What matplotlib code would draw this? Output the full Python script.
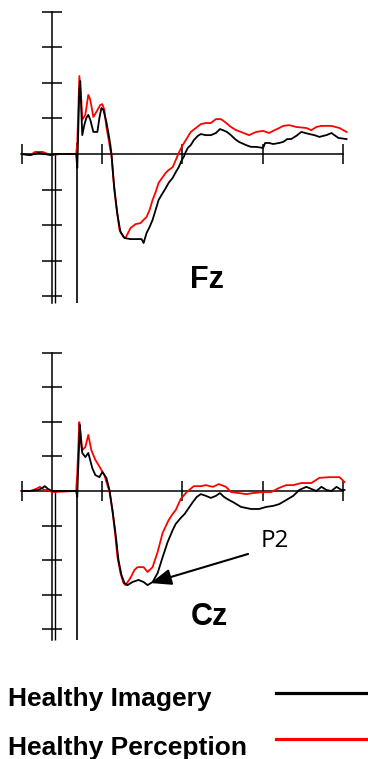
import matplotlib
matplotlib.use("Agg")
import matplotlib.pyplot as plt
from matplotlib.lines import Line2D

# ---------------- data (time in ms, amplitude in µV) ----------------
fz_perc_t = [-100, -89, -83, -74, -67, -62, -52, -32, -30.6, -28, -25.6, -24.4, -20.6, -16.9, -14.4,
             -10.6, -6.9, -1.9, 0.6, 3.1, 5.6, 8.1, 10.6, 11.9, 14.4, 18.1, 21.9, 26.9, 29.4, 35.6,
             41.9, 48.1, 51.9, 55.6, 59.4, 63.1, 66.9, 70.6, 75.6, 79.4, 83.1, 88.1, 91.9, 95.6,
             100.6, 104.4, 110.6, 116.9, 123.1, 129.4, 135.6, 141.9, 148.1, 153.1, 160.6, 166.9,
             173.1, 183.1, 191.9, 200.6, 208.1, 213.1, 220.6, 225.6, 233.1, 241.9, 254.4, 260.6,
             266.9, 273.1, 285.6, 295.6, 304.4]
fz_perc_v = [0, -0.03, 0.06, 0.06, 0, -0.03, 0, 0, 0.31, 2.19, 1.52, 0.96, 1.10, 1.66, 1.52,
             1.04, 1.18, 1.38, 1.40, 1.24, 0.76, 0.45, 0.11, 0, -0.73, -1.49, -2.13, -2.33, -2.36, -2.08,
             -1.97, -1.94, -1.85, -1.77, -1.57, -1.29, -1.07, -0.81, -0.65, -0.53, -0.45, -0.37, -0.17, 0.03,
             0.25, 0.39, 0.62, 0.73, 0.84, 0.87, 0.87, 0.98, 0.98, 0.90, 0.76, 0.67,
             0.62, 0.53, 0.62, 0.65, 0.59, 0.65, 0.73, 0.79, 0.81, 0.76, 0.73, 0.67,
             0.76, 0.79, 0.79, 0.73, 0.62]

fz_imag_t = [-100, -89, -79, -71, -64, -58, -32, -30.6, -30, -28.1, -26.9, -25.6, -24.4, -21.9, -19.4,
             -16.9, -14.4, -10.6, -5.6, -3.1, -0.6, 1.9, 5.6, 8.1, 10.6, 11.9, 15.6, 19.4, 23.1, 28.1,
             35.6, 43.1, 49.4, 51.9, 55.6, 59.4, 63.1, 66.9, 70.6, 75.6, 79.4, 83.1, 88.1, 91.9, 95.6,
             99.4, 101.9, 104.4, 106.9, 110.6, 114.4, 119.4, 123.1, 129.4, 135.6, 141.9, 146.9, 150.6,
             155.6, 160.6, 165.6, 170.6, 179.4, 185.6, 191.9, 200.6, 203.1, 208.1, 213.1, 220.6, 225.6,
             230.6, 235.6, 241.9, 248.1, 253.1, 258.1, 264.4, 270.6, 275.6, 279.4, 285.6, 290.6, 294.4,
             304.4]
fz_imag_v = [0, -0.03, 0.03, 0, -0.03, 0, 0, -0.39, 0.11, 1.80, 2.05, 1.24, 0.53, 0.81, 1.01,
             1.10, 0.96, 0.62, 0.62, 1.01, 1.29, 1.24, 0.90, 0.59, 0.25, 0, -1.01, -1.71, -2.19, -2.36,
             -2.39, -2.39, -2.39, -2.50, -2.22, -2.05, -1.85, -1.57, -1.29, -1.10, -0.96, -0.81, -0.67, -0.51, -0.37,
             -0.17, -0.08, 0.06, 0.17, 0.25, 0.39, 0.51, 0.56, 0.53, 0.53, 0.59, 0.70, 0.67,
             0.62, 0.53, 0.42, 0.34, 0.25, 0.20, 0.20, 0.17, 0.31, 0.31, 0.28, 0.31, 0.34,
             0.42, 0.42, 0.51, 0.62, 0.59, 0.56, 0.53, 0.48, 0.51, 0.53, 0.59, 0.51, 0.45,
             0.42]

cz_perc_t = [-100, -89, -82, -77, -72, -67, -62, -32, -30.6, -28.1, -26.9, -24.4, -20.6, -16.9, -13.1,
             -8.1, -1.9, 3.1, 6.9, 9.4, 13.1, 16.9, 19.4, 23.1, 26.9, 29.4, 35.6, 40.6, 44.4, 51.9,
             56.9, 63.1, 69.4, 75.6, 83.1, 88.1, 91.9, 98.1, 105.6, 114.4, 123.1, 129.4, 138.1, 145.6,
             154.4, 160.6, 170.6, 179.4, 188.1, 200.6, 210.6, 220.6, 229.4, 238.1, 248.1, 260.6, 270.6,
             283.1, 295.6, 301.9]
cz_perc_v = [0, 0, 0.06, 0.12, 0.03, 0.03, -0.03, 0, 0.52, 1.99, 1.76, 1.18, 1.27, 1.62, 1.18,
             0.90, 0.66, 0.46, 0.17, 0, -0.55, -1.33, -1.91, -2.37, -2.66, -2.72, -2.51, -2.28, -2.20, -2.20,
             -2.34, -2.20, -1.76, -1.21, -0.84, -0.66, -0.55, -0.23, -0.03, 0.14, 0.14, 0.17, 0.12, 0.20,
             0.12, -0.03, -0.06, -0.09, -0.06, -0.03, -0.03, 0.09, 0.17, 0.17, 0.23, 0.23, 0.38,
             0.40, 0.40, 0.26]

cz_imag_t = [-100, -89, -79, -74, -71, -67, -62, -32, -30.6, -30, -28.1, -27.5, -25.6, -24.4, -20.6,
             -16.9, -11.9, -8.1, -3.1, 0.6, 5.6, 9.4, 13.1, 16.9, 20.6, 24.4, 28.1, 31.9, 38.1, 45.6,
             51.9, 56.9, 63.1, 69.4, 75.6, 81.9, 88.1, 91.9, 98.1, 103.1, 108.1, 113.1, 118.1, 123.1,
             129.4, 135.6, 141.9, 146.9, 151.9, 158.1, 163.1, 173.1, 185.6, 195.6, 204.4, 213.1, 220.6,
             229.4, 238.1, 245.6, 254.4, 260.6, 266.9, 273.1, 279.4, 285.6, 291.9, 298.1, 301.9]
cz_imag_v = [0, 0, 0.03, 0.09, 0.14, 0.06, 0, 0, -0.17, 0.32, 1.47, 1.91, 1.33, 1.10, 0.98,
             1.10, 0.66, 0.46, 0.40, 0.55, 0.38, 0.03, -0.55, -1.21, -1.99, -2.43, -2.66, -2.72, -2.63, -2.57,
             -2.63, -2.72, -2.63, -2.37, -1.91, -1.47, -1.13, -0.95, -0.78, -0.66, -0.49, -0.32, -0.17, -0.09,
             -0.14, -0.20, -0.14, -0.06, -0.17, -0.26, -0.32, -0.46, -0.52, -0.52, -0.46, -0.43, -0.38,
             -0.26, -0.14, 0.03, 0.12, 0.06, 0, 0.12, 0.03, 0, 0.12, 0.03, 0.03]

x_ticks = [-100, 0, 100, 200, 300]
y_ticks = [-4, -3, -2, -1, 1, 2, 3, 4]
yaxis_t = -61.9      # position of the amplitude axis
yaxis2_t = -58.1     # second (doubled) axis line below zero
stim_t = -30.6       # stimulus marker line
p2_t, p2_v = 60.6, -2.66

channels = ["Fz", "Cz"]
series_names = ["Healthy Imagery", "Healthy Perception"]
series_colors = ["#000000", "#ff0000"]

# ---------------- figure ----------------
W, H = 368, 759
fig = plt.figure(figsize=(W / 100, H / 100), dpi=100)
xlim = (-126.75, 331.1)


def make_panel(rect, ylim, ybounds, t_imag, v_imag, t_perc, v_perc):
    ax = fig.add_axes(rect)
    ax.set_xlim(*xlim)
    ax.set_ylim(*ylim)
    ax.patch.set_alpha(0)
    for s in ("top", "right"):
        ax.spines[s].set_visible(False)
    ax.spines["left"].set_position(("data", yaxis_t))
    ax.spines["bottom"].set_position(("data", 0))
    ax.spines["left"].set_bounds(*ybounds)
    ax.spines["bottom"].set_bounds(x_ticks[0], x_ticks[-1])
    for s in ("left", "bottom"):
        ax.spines[s].set_linewidth(1.1)
        ax.spines[s].set_color("black")
    ax.set_xticks(x_ticks)
    ax.set_yticks(y_ticks)
    ax.tick_params(axis="both", direction="inout", length=15, width=1.1,
                   labelbottom=False, labelleft=False, color="black")
    ax.vlines(yaxis2_t, ybounds[0], 0, color="black", lw=1.0)
    ax.vlines(stim_t, ybounds[0], 0.3, color="black", lw=1.2)
    ax.plot(t_perc, v_perc, color=series_colors[1], lw=1.3, zorder=3)
    ax.plot(t_imag, v_imag, color=series_colors[0], lw=1.3, zorder=4)
    return ax


ax1 = make_panel([0, 1 - 310 / H, 1, 310 / H], (-4.382, 4.326), (-4.19, 4.0),
                 fz_imag_t, fz_imag_v, fz_perc_t, fz_perc_v)
ax2 = make_panel([0, 1 - 650 / H, 1, 320 / H], (-4.595, 4.653), (-4.31, 4.0),
                 cz_imag_t, cz_imag_v, cz_perc_t, cz_perc_v)

# channel labels
fig.text(190 / W, 1 - 288 / H, channels[0], fontsize=22, fontweight="bold",
         family="Liberation Sans", va="baseline", ha="left")
fig.text(191 / W, 1 - 625 / H, channels[1], fontsize=22, fontweight="bold",
         family="Liberation Sans", va="baseline", ha="left")

# P2 annotation
ax2.annotate("", xy=(p2_t, p2_v), xytext=(181.9, -1.82),
             arrowprops=dict(arrowstyle="-|>,head_length=0.9,head_width=0.35",
                             color="black", lw=1.5, mutation_scale=14,
                             shrinkA=0, shrinkB=0))
fig.text(261 / W, 1 - 547 / H, "P2", fontsize=17.5, family="Open Sans",
         va="baseline", ha="left")

# legend
for i, (name, col) in enumerate(zip(series_names, series_colors)):
    base = [706, 755][i]
    ly = [693, 739][i]
    fig.text(8 / W, 1 - base / H, name, fontsize=19, fontweight="bold",
             family="Liberation Sans", va="baseline", ha="left")
    fig.add_artist(Line2D([276 / W, 1.0], [1 - ly / H, 1 - ly / H], color=col,
                          lw=2.3, transform=fig.transFigure))

fig.savefig("out.png", dpi=100, facecolor="white")
